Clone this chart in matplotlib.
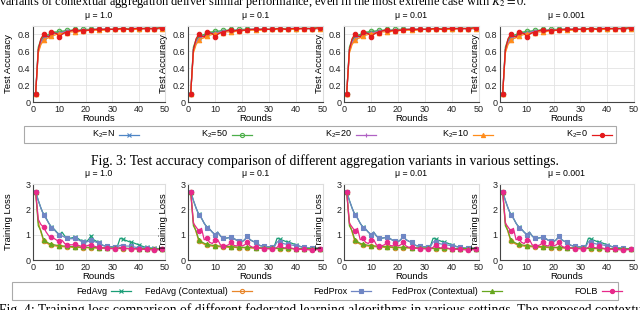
import matplotlib

matplotlib.use("Agg")
import matplotlib.pyplot as plt
from matplotlib.lines import Line2D
from matplotlib.patches import Rectangle

W, H = 640, 310

rounds = list(range(1, 50))
mus = ["1.0", "0.1", "0.01", "0.001"]

# ---- Fig. 3: test accuracy (same shape for every mu) ----
k2_labels = ["K$_2$=N", "K$_2$=50", "K$_2$=20", "K$_2$=10", "K$_2$=0"]
acc_k2_n = [0.10, 0.62, 0.72, 0.76, 0.78, 0.79, 0.81, 0.82, 0.82, 0.83,
            0.83, 0.84, 0.84, 0.84, 0.85, 0.85, 0.85, 0.85, 0.85, 0.85,
            0.85, 0.86, 0.86, 0.86, 0.86, 0.86, 0.86, 0.86, 0.86, 0.86,
            0.86, 0.86, 0.86, 0.86, 0.86, 0.87, 0.87, 0.87, 0.87, 0.87,
            0.87, 0.87, 0.87, 0.87, 0.87, 0.87, 0.87, 0.87, 0.87]
acc_k2_50 = [0.10, 0.65, 0.74, 0.77, 0.79, 0.80, 0.82, 0.83, 0.83, 0.84,
             0.84, 0.84, 0.85, 0.85, 0.85, 0.86, 0.85, 0.85, 0.86, 0.86,
             0.86, 0.86, 0.86, 0.86, 0.86, 0.86, 0.86, 0.87, 0.86, 0.86,
             0.86, 0.87, 0.87, 0.87, 0.87, 0.87, 0.87, 0.87, 0.87, 0.87,
             0.87, 0.87, 0.88, 0.87, 0.87, 0.87, 0.88, 0.88, 0.88]
acc_k2_20 = [0.10, 0.60, 0.70, 0.75, 0.77, 0.78, 0.80, 0.81, 0.81, 0.82,
             0.82, 0.83, 0.84, 0.84, 0.84, 0.84, 0.84, 0.85, 0.85, 0.85,
             0.85, 0.85, 0.85, 0.86, 0.86, 0.86, 0.86, 0.86, 0.86, 0.86,
             0.86, 0.86, 0.86, 0.86, 0.86, 0.86, 0.86, 0.87, 0.87, 0.87,
             0.87, 0.87, 0.87, 0.87, 0.87, 0.87, 0.87, 0.87, 0.87]
acc_k2_10 = [0.10, 0.58, 0.68, 0.73, 0.75, 0.76, 0.78, 0.79, 0.80, 0.81,
             0.81, 0.82, 0.82, 0.83, 0.83, 0.83, 0.83, 0.84, 0.84, 0.84,
             0.85, 0.85, 0.85, 0.85, 0.85, 0.85, 0.85, 0.86, 0.86, 0.86,
             0.86, 0.86, 0.86, 0.86, 0.86, 0.86, 0.86, 0.86, 0.86, 0.86,
             0.86, 0.87, 0.87, 0.87, 0.87, 0.87, 0.87, 0.87, 0.87]
acc_k2_0 = [0.10, 0.62, 0.75, 0.80, 0.78, 0.77, 0.83, 0.82, 0.81, 0.77,
            0.80, 0.82, 0.82, 0.84, 0.85, 0.85, 0.84, 0.85, 0.84, 0.85,
            0.85, 0.85, 0.86, 0.86, 0.86, 0.86, 0.86, 0.86, 0.86, 0.86,
            0.86, 0.86, 0.87, 0.87, 0.87, 0.86, 0.86, 0.87, 0.87, 0.88,
            0.87, 0.87, 0.87, 0.87, 0.87, 0.87, 0.87, 0.88, 0.88]
acc_series = [acc_k2_n, acc_k2_50, acc_k2_20, acc_k2_10, acc_k2_0]

# ---- Fig. 4: training loss ----
algo_labels = ["FedAvg", "FedAvg (Contextual)", "FedProx",
               "FedProx (Contextual)", "FOLB"]
loss_fedavg = [2.70, 2.35, 2.05, 1.80, 1.65, 1.45, 1.30, 1.22, 1.10, 1.00,
               1.10, 0.95, 0.85, 0.86, 0.88, 0.90, 0.85, 0.78, 0.75, 0.72,
               0.80, 0.95, 0.80, 0.74, 0.70, 0.60, 0.56, 0.55, 0.53, 0.52,
               0.52, 0.55, 0.86, 0.82, 0.78, 0.74, 0.70, 0.68, 0.64, 0.60,
               0.56, 0.52, 0.50, 0.48, 0.47, 0.46, 0.45, 0.45, 0.45]
loss_fedavg_ctx = [2.70, 1.50, 1.10, 0.75, 0.68, 0.62, 0.58, 0.56, 0.55, 0.54,
                   0.53, 0.52, 0.51, 0.51, 0.50, 0.50, 0.50, 0.49, 0.49, 0.49,
                   0.48, 0.48, 0.48, 0.47, 0.47, 0.47, 0.47, 0.46, 0.46, 0.46,
                   0.46, 0.46, 0.45, 0.45, 0.45, 0.45, 0.45, 0.45, 0.45, 0.44,
                   0.44, 0.44, 0.44, 0.44, 0.44, 0.44, 0.43, 0.43, 0.43]
loss_fedprox_ctx = [2.70, 1.35, 1.15, 0.80, 0.72, 0.66, 0.62, 0.60, 0.58, 0.57,
                    0.56, 0.55, 0.54, 0.53, 0.53, 0.52, 0.52, 0.51, 0.51, 0.50,
                    0.50, 0.50, 0.49, 0.49, 0.49, 0.48, 0.48, 0.48, 0.47, 0.47,
                    0.47, 0.47, 0.46, 0.46, 0.46, 0.46, 0.46, 0.45, 0.45, 0.45,
                    0.45, 0.45, 0.45, 0.45, 0.45, 0.45, 0.44, 0.44, 0.44]
loss_fedprox_mu1 = [2.70, 2.35, 2.05, 1.78, 1.62, 1.45, 1.28, 1.20, 1.08, 1.00,
                    0.95, 0.90, 0.85, 0.84, 0.84, 0.85, 0.80, 0.75, 0.72, 0.70,
                    0.74, 0.78, 0.74, 0.70, 0.68, 0.60, 0.56, 0.55, 0.53, 0.52,
                    0.51, 0.52, 0.58, 0.56, 0.55, 0.55, 0.54, 0.52, 0.50, 0.49,
                    0.48, 0.48, 0.47, 0.46, 0.46, 0.45, 0.45, 0.45, 0.45]
loss_fedprox = [2.70, 2.35, 2.05, 1.78, 1.65, 1.45, 1.28, 1.22, 1.10, 1.00,
                1.10, 0.95, 0.85, 0.86, 0.88, 0.91, 0.85, 0.78, 0.75, 0.72,
                0.80, 0.93, 0.80, 0.74, 0.70, 0.60, 0.56, 0.55, 0.53, 0.52,
                0.52, 0.52, 0.72, 0.70, 0.66, 0.63, 0.62, 0.60, 0.58, 0.57,
                0.54, 0.52, 0.50, 0.48, 0.47, 0.46, 0.45, 0.45, 0.45]
loss_folb_mu1 = [2.70, 1.60, 1.40, 1.30, 1.10, 0.95, 0.90, 0.85, 0.78, 0.75,
                 0.78, 0.65, 0.60, 0.60, 0.60, 0.62, 0.58, 0.55, 0.55, 0.55,
                 0.58, 0.60, 0.55, 0.52, 0.50, 0.48, 0.47, 0.46, 0.45, 0.45,
                 0.45, 0.45, 0.50, 0.48, 0.46, 0.45, 0.45, 0.44, 0.44, 0.43,
                 0.43, 0.42, 0.42, 0.41, 0.40, 0.40, 0.40, 0.41, 0.42]
loss_folb = [2.70, 1.45, 1.30, 1.15, 1.25, 0.80, 0.85, 0.70, 0.65, 0.78,
             0.80, 0.60, 0.55, 0.56, 0.60, 0.70, 0.58, 0.55, 0.68, 0.55,
             0.60, 0.70, 0.55, 0.50, 0.52, 0.48, 0.46, 0.45, 0.45, 0.44,
             0.43, 0.44, 0.50, 0.60, 0.50, 0.47, 0.55, 0.48, 0.45, 0.45,
             0.43, 0.42, 0.42, 0.41, 0.40, 0.38, 0.40, 0.41, 0.42]
loss_fedprox_by_mu = [loss_fedprox_mu1, loss_fedprox, loss_fedprox, loss_fedprox]
loss_folb_by_mu = [loss_folb_mu1, loss_folb, loss_folb, loss_folb]

k2_styles = [
    dict(color="#4f86c6", marker="x", mfc="#4f86c6"),
    dict(color="#4daf4a", marker="o", mfc="none"),
    dict(color="#b061c4", marker="+", mfc="#b061c4"),
    dict(color="#ff8c1a", marker="^", mfc="#ff8c1a"),
    dict(color="#e41a1c", marker="o", mfc="#e41a1c"),
]
algo_styles = [
    dict(color="#1b9e77", marker="x", mfc="#1b9e77"),
    dict(color="#e8862a", marker="o", mfc="none"),
    dict(color="#6f86c4", marker="s", mfc="#6f86c4"),
    dict(color="#66a61e", marker="^", mfc="#66a61e"),
    dict(color="#e7298a", marker="o", mfc="#e7298a"),
]

plt.rcParams.update({
    "font.family": ["Liberation Sans", "DejaVu Sans"],
    "font.size": 6.5,
    "mathtext.fontset": "custom",
    "mathtext.rm": "Liberation Sans",
    "mathtext.it": "Liberation Sans:italic",
    "axes.edgecolor": "#444444",
    "axes.linewidth": 0.8,
    "xtick.labelsize": 6.5,
    "ytick.labelsize": 6.5,
})


def fx(px):
    return px / W


def fy(py):
    return 1 - py / H


def make_axes(fig, left, right, top, bottom):
    ax = fig.add_axes([fx(left), fy(bottom), fx(right - left), (bottom - top) / H])
    ax.grid(True, color="#e3e3e3", linewidth=0.6)
    ax.set_axisbelow(True)
    for side in ("top", "right"):
        ax.spines[side].set_color("#dddddd")
    ax.tick_params(length=0, pad=2, colors="#222222")
    ax.set_xlim(0, 50)
    ax.set_xticks([0, 10, 20, 30, 40, 50])
    return ax


def draw_legend(fig, box, entries, styles, label_ends):
    x0, y0, x1, y1 = box
    fig.patches.append(Rectangle((fx(x0), fy(y1)), fx(x1 - x0), (y1 - y0) / H,
                                 transform=fig.transFigure, fill=False,
                                 edgecolor="#aaaaaa", linewidth=0.8))
    yc = fy((y0 + y1) / 2)
    for label, st, xe in zip(entries, styles, label_ends):
        fig.text(fx(xe), yc, label, ha="right", va="center", fontsize=6.5)
        fig.add_artist(Line2D([fx(xe + 4), fx(xe + 24)], [yc, yc],
                              transform=fig.transFigure, color=st["color"],
                              linewidth=0.9))
        fig.add_artist(Line2D([fx(xe + 14)], [yc], transform=fig.transFigure,
                              color=st["color"], marker=st["marker"],
                              mfc=st["mfc"], markersize=3, markeredgewidth=0.8))


fig = plt.figure(figsize=(W / 100, H / 100), dpi=100)

lefts = [33, 188, 344, 500]
rights = [165, 323, 479, 634]

# top row
for i, mu in enumerate(mus):
    ax = make_axes(fig, lefts[i], rights[i], 26, 102)
    for ys, st in zip(acc_series, k2_styles):
        ax.plot(rounds, ys, color=st["color"], linewidth=0.9, marker=st["marker"],
                mfc=st["mfc"], markersize=3.2, markeredgewidth=0.8, markevery=3)
    ax.set_ylim(0, 0.9)
    ax.set_yticks([0, 0.2, 0.4, 0.6, 0.8])
    ax.set_yticklabels(["0", "0.2", "0.4", "0.6", "0.8"])
    ax.set_title(f"\u03bc = {mu}", fontsize=6.3, pad=6)
    ax.set_xlabel("Rounds", fontsize=6.8)
    ax.xaxis.set_label_coords(0.5, -0.16)
    ax.set_ylabel("Test Accuracy", fontsize=6.8)
    ax.yaxis.set_label_coords(-20 / (rights[i] - lefts[i]), 0.5)

draw_legend(fig, (24, 126, 616, 143), k2_labels, k2_styles,
            [115, 228, 352, 469, 588])

# bottom row
for i, mu in enumerate(mus):
    ax = make_axes(fig, lefts[i], rights[i], 184, 260)
    loss_series = [loss_fedavg, loss_fedavg_ctx, loss_fedprox_by_mu[i],
                   loss_fedprox_ctx, loss_folb_by_mu[i]]
    for ys, st in zip(loss_series, algo_styles):
        ax.plot(rounds, ys, color=st["color"], linewidth=0.9, marker=st["marker"],
                mfc=st["mfc"], markersize=3.2, markeredgewidth=0.8, markevery=3)
    ax.set_ylim(0, 3)
    ax.set_yticks([0, 1, 2, 3])
    ax.set_title(f"\u03bc = {mu}", fontsize=6.3, pad=6)
    ax.set_xlabel("Rounds", fontsize=6.8)
    ax.xaxis.set_label_coords(0.5, -0.16)
    ax.set_ylabel("Training Loss", fontsize=6.8)
    ax.yaxis.set_label_coords(-20 / (rights[i] - lefts[i]), 0.5)

draw_legend(fig, (12, 282, 618, 300), algo_labels, algo_styles,
            [107, 228, 347, 478, 598])

# surrounding page text
serif = ["Liberation Serif", "DejaVu Serif"]
fig.text(fx(-1), fy(5),
         "variants of contextual aggregation deliver similar performance, even in the most extreme case with $K_2 = 0$.",
         family=serif, fontsize=8.9, ha="left", va="baseline", math_fontfamily="stix")
fig.text(0.508, fy(161),
         "Fig. 3: Test accuracy comparison of different aggregation variants in various settings.",
         family=serif, fontsize=9.8, ha="center", va="center")
fig.text(fx(-1), fy(314),
         "Fig. 4: Training loss comparison of different federated learning algorithms in various settings. The proposed contextual",
         family=serif, fontsize=9.8, ha="left", va="baseline")

fig.savefig("out.png", dpi=100)
